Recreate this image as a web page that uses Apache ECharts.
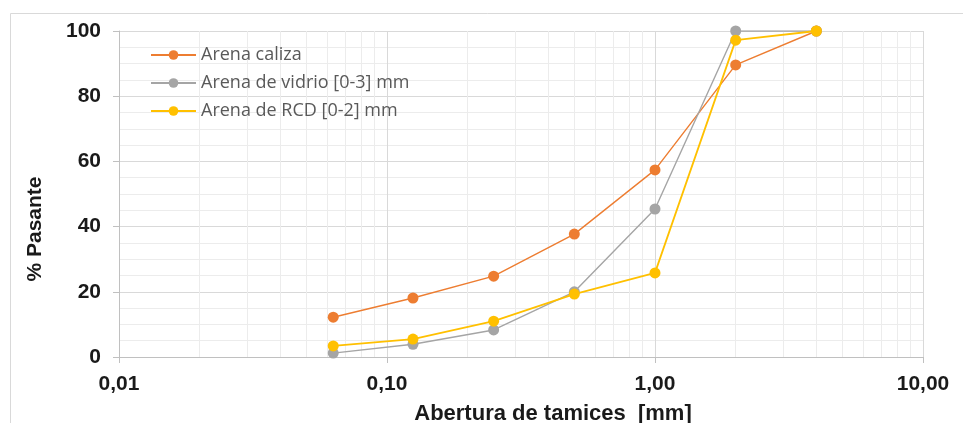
<!DOCTYPE html>
<html>
<head>
<meta charset="utf-8">
<script src="https://cdn.jsdelivr.net/npm/echarts@6/dist/echarts.min.js"></script>
<style>html,body{margin:0;padding:0;background:#fff;}#c{width:963px;height:423px;}</style>
</head>
<body>
<div id="c"></div>
<script>
var sieves = [0.063, 0.125, 0.25, 0.5, 1, 2, 4];
var seriesNames = ['Arena caliza', 'Arena de vidrio [0-3] mm', 'Arena de RCD [0-2] mm'];
var caliza = [12.2, 18.1, 24.8, 37.7, 57.4, 89.6, 100];
var vidrio = [1.2, 3.9, 8.3, 20.0, 45.4, 100, 100];
var rcd = [3.4, 5.5, 11.0, 19.3, 25.8, 97.2, 100];
var xMinor = [0.02,0.03,0.04,0.05,0.06,0.07,0.08,0.09,0.2,0.3,0.4,0.5,0.6,0.7,0.8,0.9,2,3,4,5,6,7,8,9];
var xTitle = 'Abertura de tamices  [mm]';
var yTitle = '% Pasante';
var colors = ['#ED7D31', '#A5A5A5', '#FFC000'];

function pairs(xs, ys){ return xs.map(function(x,i){ return [x, ys[i]]; }); }

var chart = echarts.init(document.getElementById('c'));
var font = 'Liberation Sans, Arial, sans-serif';
var mkSeries = function(name, ys, color, width){
  return {
    name: name, type: 'line', data: pairs(sieves, ys),
    symbol: 'circle', symbolSize: 11,
    itemStyle: {color: color, borderWidth: 0},
    lineStyle: {color: color, width: width},
    z: 5
  };
};
chart.setOption({
  animation: false,
  graphic: [{
    type: 'rect', shape: {x: 10.5, y: 13.5, width: 1000, height: 500},
    style: {fill: 'none', stroke: '#d9d9d9', lineWidth: 1}, silent: true, z: -10
  }, {
    type: 'text', x: 35, y: 229, rotation: Math.PI / 2,
    style: {text: yTitle, fontSize: 21, fontWeight: 'bold', fill: '#1a1a1a', fontFamily: font,
      align: 'center', verticalAlign: 'middle'}
  }, {
    type: 'text', x: 553, y: 414,
    style: {text: xTitle, fontSize: 22, fontWeight: 'bold', fill: '#1a1a1a', fontFamily: font,
      align: 'center', verticalAlign: 'middle'}
  }],
  grid: {left: 119, right: 40, top: 31, bottom: 66, outerBoundsMode: 'none', containLabel: false},
  legend: {
    data: seriesNames, orient: 'vertical', left: 150, top: 46, padding: 0,
    itemWidth: 45, itemHeight: 12, itemGap: 10,
    textStyle: {color: '#595959', fontSize: 18, fontFamily: 'Open Sans, Liberation Sans, sans-serif', padding: [0,0,0,0]}
  },
  xAxis: {
    type: 'log', logBase: 10, min: 0.01, max: 10,
    axisLine: {show: true, lineStyle: {color: '#c0c0c0', width: 1}},
    axisTick: {show: true, length: 6, lineStyle: {color: '#c0c0c0'}},
    axisLabel: {margin: 17, fontSize: 21, fontWeight: 'bold', color: '#1a1a1a', fontFamily: font,
      formatter: function(v){ return v.toFixed(2).replace('.', ','); }},
    splitLine: {show: true, lineStyle: {color: '#d9d9d9', width: 1}}
  },
  yAxis: {
    type: 'value', min: 0, max: 100, interval: 20,
    axisLine: {show: true, lineStyle: {color: '#c0c0c0', width: 1}},
    axisTick: {show: true, length: 6, lineStyle: {color: '#c0c0c0'}},
    axisLabel: {margin: 18, fontSize: 21, fontWeight: 'bold', color: '#1a1a1a', fontFamily: font},
    splitLine: {show: true, lineStyle: {color: '#d9d9d9', width: 1}},
    minorTick: {show: false, splitNumber: 4},
    minorSplitLine: {show: true, lineStyle: {color: '#ececec', width: 1}}
  },
  series: [
    {
      name: 'minor', type: 'line', data: [], silent: true, z: 0,
      markLine: {
        silent: true, symbol: 'none', animation: false, z: 0,
        label: {show: false},
        lineStyle: {color: '#ececec', width: 1, type: 'solid'},
        data: xMinor.map(function(v){ return {xAxis: v}; })
      }
    },
    mkSeries(seriesNames[0], caliza, colors[0], 1.4),
    mkSeries(seriesNames[1], vidrio, colors[1], 1.4),
    mkSeries(seriesNames[2], rcd, colors[2], 1.8)
  ]
});
</script>
</body>
</html>
